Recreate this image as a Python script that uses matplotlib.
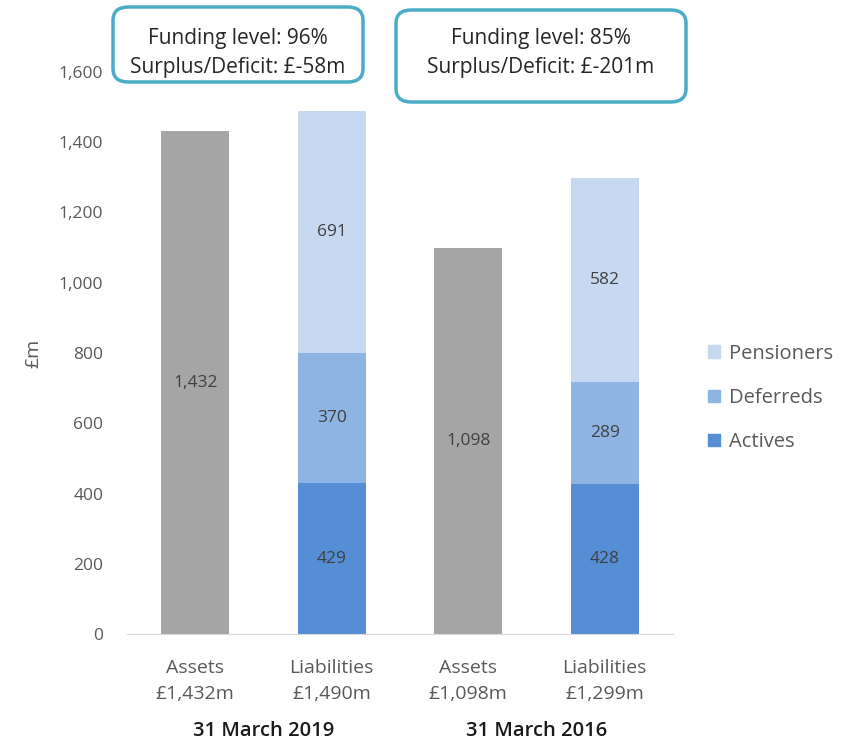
import matplotlib
matplotlib.use("Agg")
import matplotlib.pyplot as plt
from matplotlib.patches import FancyBboxPatch, Patch

plt.rcParams['font.family'] = ['Open Sans', 'DejaVu Sans']

categories = ["Assets\n£1,432m", "Liabilities\n£1,490m", "Assets\n£1,098m", "Liabilities\n£1,299m"]
dates = ["31 March 2019", "31 March 2016"]
assets = [1432, None, 1098, None]
actives = [None, 429, None, 428]
deferreds = [None, 370, None, 289]
pensioners = [None, 691, None, 582]
box_texts = ["Funding level: 96%\nSurplus/Deficit: £-58m",
             "Funding level: 85%\nSurplus/Deficit: £-201m"]
yticks = [0, 200, 400, 600, 800, 1000, 1200, 1400, 1600]

c_assets = "#A5A5A5"
c_act = "#558ED5"
c_def = "#8EB4E3"
c_pen = "#C6D9F1"
c_text = "#595959"
c_lab = "#404040"
c_box = "#4BACC6"

W, H = 852, 744
fig = plt.figure(figsize=(W/100, H/100), dpi=100)
ax = fig.add_axes([127/W, 1-634/H, (673-127)/W, (634-72)/H])

x = list(range(len(categories)))
bw = 0.5
for i in x:
    if assets[i] is not None:
        ax.bar(i, assets[i], bw, color=c_assets)
        ax.text(i, assets[i]/2, f"{assets[i]:,}", ha='center', va='center', fontsize=12.5, color=c_lab)
    else:
        b = 0
        for v, c in ((actives[i], c_act), (deferreds[i], c_def), (pensioners[i], c_pen)):
            ax.bar(i, v, bw, bottom=b, color=c)
            ax.text(i, b + v/2, f"{v:,}", ha='center', va='center', fontsize=12.5, color=c_lab)
            b += v

ax.set_xlim(-0.5, 3.5)
ax.set_ylim(0, 1600)
ax.set_yticks(yticks)
ax.set_yticklabels([f"{t:,}" for t in yticks], fontsize=12.5, color=c_text)
ax.set_xticks(x)
ax.set_xticklabels(categories, fontsize=14, color=c_text, linespacing=1.6)
ax.tick_params(length=0)
ax.tick_params(axis='x', pad=18)
ax.tick_params(axis='y', pad=17)
for s in ['top', 'right', 'left']:
    ax.spines[s].set_visible(False)
ax.spines['bottom'].set_color("#D9D9D9")
ax.set_ylabel("£m", fontsize=14, color=c_text, labelpad=12)

# date group labels
for j, d in enumerate(dates):
    xc = (x[2*j] + x[2*j+1]) / 2
    ax.annotate(d, xy=(xc, 0), xycoords=('data', 'axes fraction'),
                xytext=(0, -97), textcoords='offset pixels',
                ha='center', va='center', fontsize=14.5, fontweight='semibold', color="#1a1a1a")

# boxes
boxes = [(113, 7, 363, 82, 238, 53), (396, 10, 686, 102, 541, 53)]
for (x0, y0, x1, y1, tx, ty), t in zip(boxes, box_texts):
    p = FancyBboxPatch((x0/W, 1-y1/H), (x1-x0)/W, (y1-y0)/H,
                       boxstyle="round,pad=0,rounding_size=0.018",
                       transform=fig.transFigure, fill=False, edgecolor=c_box, linewidth=2.5)
    fig.patches.append(p)
    fig.text(tx/W, 1-ty/H, t, ha='center', va='center', fontsize=15, color="#262626", linespacing=1.55)

handles = [Patch(color=c_pen, label="Pensioners"), Patch(color=c_def, label="Deferreds"),
           Patch(color=c_act, label="Actives")]
fig.legend(handles=handles, loc='center left', bbox_to_anchor=(690/W, 1-398/H), frameon=False,
           fontsize=14.5, labelcolor=c_text, handlelength=0.6, handleheight=0.6, handletextpad=0.45,
           labelspacing=1.2)

fig.savefig("out.png", dpi=100)
